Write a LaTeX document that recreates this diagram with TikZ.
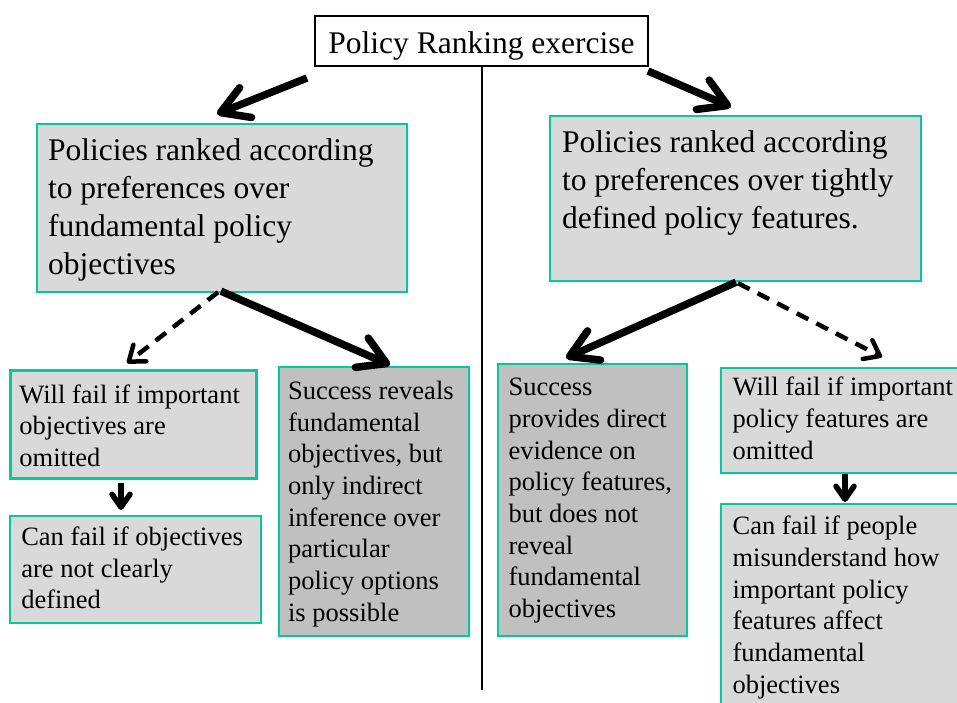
\documentclass[tikz,border=0pt]{standalone}
\usepackage{fontspec}
\setmainfont{Liberation Serif}
\usetikzlibrary{arrows.meta,calc}
\definecolor{boxline}{RGB}{0,204,153}
\definecolor{lightfill}{RGB}{217,217,217}
\definecolor{darkfill}{RGB}{192,192,192}
\newcommand{\boxtext}[3]{\parbox[t][#2][t]{#1}{\raggedright #3}}
\begin{document}
\begin{tikzpicture}[x=1pt,y=-1pt,
  big/.style={font=\fontsize{31.5}{38}\selectfont},
  small/.style={font=\fontsize{26.5}{31.7}\selectfont},
  panel/.style={draw=boxline, line width=2.2pt, fill=lightfill, anchor=north west, inner sep=0pt},
  darkpanel/.style={panel, fill=darkfill},
  thickarrow/.style={line width=7.5pt, -{Straight Barb[length=27pt,width=32pt,round]}},
  dasharrow/.style={line width=4.5pt, dash pattern=on 13pt off 9pt, -{Straight Barb[length=14pt,width=21pt,round]}},
  downarrow/.style={line width=5.5pt, -{Straight Barb[length=13pt,width=18pt,round]}},
]
\useasboundingbox (0,0) rectangle (957,702);
\clip (0,0) rectangle (957,702);
\fill[white] (0,0) rectangle (957,702);

% title and divider
\node[draw=black, line width=2pt, fill=white, big, minimum width=333pt,
      text height=37.3pt, text depth=12.7pt, inner sep=0pt] (title) at (481.5,41) {Policy Ranking exercise};
\coordinate (vend) at (482,690);
\draw[line width=2.8pt] (title.south -| vend) -- (vend);

% top boxes
\node[panel, big, inner xsep=11pt, inner ysep=15pt] (lt) at (36,123)
  {\boxtext{348pt}{138pt}{Policies ranked according\\to preferences over\\fundamental policy\\objectives}};
\node[panel, big, inner xsep=12pt, inner ysep=15pt] (rt) at (549,115)
  {\boxtext{347pt}{135pt}{Policies ranked according\\to preferences over tightly\\defined policy features.}};

% lower left boxes
\node[panel, small, line width=2.8pt, inner xsep=9pt, inner ysep=14pt] (wl) at (9,369)
  {\boxtext{228pt}{80pt}{Will fail if important\\objectives are\\omitted}};
\node[panel, small, line width=1.6pt, inner xsep=11.5pt, inner ysep=11pt] (cl) at (9,515)
  {\boxtext{228pt}{85pt}{Can fail if objectives\\are not clearly\\defined}};
\node[darkpanel, small, inner xsep=9pt, inner ysep=14pt] (sl) at (278,366)
  {\boxtext{172pt}{241pt}{Success reveals\\fundamental\\objectives, but\\only indirect\\inference over\\particular\\policy options\\is possible}};

% lower right boxes
\node[darkpanel, small, inner xsep=10.5pt, inner ysep=14pt] (sr) at (497,363)
  {\boxtext{168pt}{244pt}{Success\\provides direct\\evidence on\\policy features,\\but does not\\reveal\\fundamental\\objectives}};
\node[panel, small, inner xsep=11.5pt, inner ysep=9pt] (wr) at (720,367)
  {\boxtext{250pt}{87pt}{Will fail if important\\policy features are\\omitted}};
\node[panel, small, inner xsep=11.5pt, inner ysep=12pt] (cr) at (720,503)
  {\boxtext{250pt}{200pt}{Can fail if people\\misunderstand how\\important policy\\features affect\\fundamental\\objectives}};

% connectors
\draw[thickarrow] ($(title.south west)+(-7,11)$) -- ($(lt.north west)+(181,-9)$);
\draw[thickarrow] ($(title.south east)+(-1,4)$) -- ($(rt.north west)+(182,-8)$);
\draw[dasharrow] ($(lt.south west)+(182,-1)$) -- ($(wl.north west)+(118,-6)$);
\draw[thickarrow] ($(lt.south west)+(185,-2)$) -- ($(sl.north west)+(112,-1)$);
\draw[thickarrow] ($(rt.south west)+(187,0)$) -- ($(sr.north west)+(69,-5)$);
\draw[dasharrow] ($(rt.south west)+(189,1)$) -- ($(wr.north west)+(162,-10)$);
\draw[downarrow] ($(wl.south west)+(112,3)$) -- ($(cl.north west)+(112,-5)$);
\draw[downarrow] ($(wr.south west)+(125,0)$) -- ($(cr.north west)+(125,-1)$);
\end{tikzpicture}
\end{document}
